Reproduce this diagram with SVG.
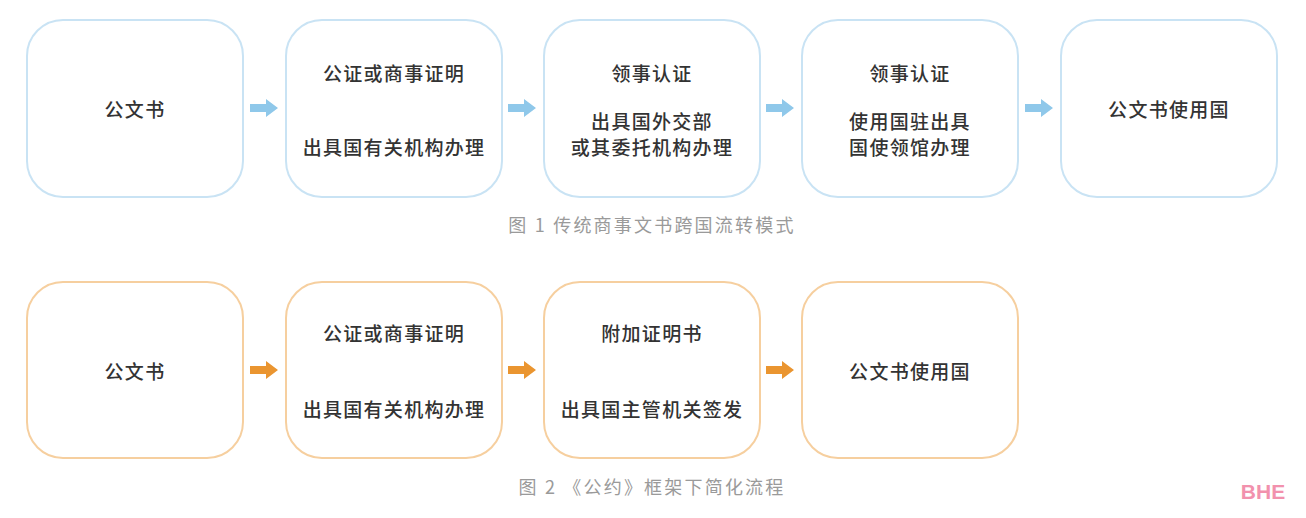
<svg xmlns="http://www.w3.org/2000/svg" width="1306" height="518" viewBox="0 0 1306 518">
<style>
.bb{fill:#fff;stroke:#c9e3f4;stroke-width:2}
.ob{fill:#fff;stroke:#f6cf9f;stroke-width:2}
.t{font-family:"Noto Sans CJK SC","Noto Sans",sans-serif;font-size:19px;font-weight:500;letter-spacing:1.3px;fill:#333;text-anchor:middle;dominant-baseline:central}
.cap{font-family:"Noto Sans CJK SC","Noto Sans",sans-serif;font-size:18px;letter-spacing:2.2px;fill:#9a9a9a;text-anchor:middle;dominant-baseline:central}
.ba{fill:#8fc8ea}
.oa{fill:#ea9530}
</style>
<defs>
<path id="arr" d="M0,-4 H16 V-9 L28,0 L16,9 V4 H0 Z"/>
</defs>
<rect width="1306" height="518" fill="#fff"/>
<g id="n1"><rect class="bb" x="27" y="20" width="216" height="177" rx="36"/><text class="t" x="135" y="108">公文书</text></g>
<g id="n2"><rect class="bb" x="286" y="20" width="216" height="177" rx="36"/><text class="t" x="394" y="72">公证或商事证明</text><text class="t" x="394" y="146">出具国有关机构办理</text></g>
<g id="n3"><rect class="bb" x="544" y="20" width="216" height="177" rx="36"/><text class="t" x="652" y="72">领事认证</text><text class="t" x="652" y="120">出具国外交部</text><text class="t" x="652" y="146">或其委托机构办理</text></g>
<g id="n4"><rect class="bb" x="802" y="20" width="216" height="177" rx="36"/><text class="t" x="910" y="72">领事认证</text><text class="t" x="910" y="120">使用国驻出具</text><text class="t" x="910" y="146">国使领馆办理</text></g>
<g id="n5"><rect class="bb" x="1061" y="20" width="216" height="177" rx="36"/><text class="t" x="1169" y="108">公文书使用国</text></g>
<g id="m1"><rect class="ob" x="27" y="282" width="216" height="176" rx="36"/><text class="t" x="135" y="370">公文书</text></g>
<g id="m2"><rect class="ob" x="286" y="282" width="216" height="176" rx="36"/><text class="t" x="394" y="332">公证或商事证明</text><text class="t" x="394" y="408">出具国有关机构办理</text></g>
<g id="m3"><rect class="ob" x="544" y="282" width="216" height="176" rx="36"/><text class="t" x="652" y="332">附加证明书</text><text class="t" x="652" y="408">出具国主管机关签发</text></g>
<g id="m4"><rect class="ob" x="802" y="282" width="216" height="176" rx="36"/><text class="t" x="910" y="370">公文书使用国</text></g>
<g id="connectors">
<use href="#arr" class="ba" x="250" y="108"/>
<use href="#arr" class="ba" x="508" y="108"/>
<use href="#arr" class="ba" x="766" y="108"/>
<use href="#arr" class="ba" x="1025" y="108"/>
<use href="#arr" class="oa" x="250" y="370"/>
<use href="#arr" class="oa" x="508" y="370"/>
<use href="#arr" class="oa" x="766" y="370"/>
</g>
<text class="cap" x="652" y="224">图 1 传统商事文书跨国流转模式</text>
<text class="cap" x="652" y="486">图 2 《公约》框架下简化流程</text>
<text x="1263" y="491" font-family="Liberation Sans, sans-serif" font-size="21" font-weight="bold" fill="#f291ad" text-anchor="middle" dominant-baseline="central">BHE</text>
</svg>
